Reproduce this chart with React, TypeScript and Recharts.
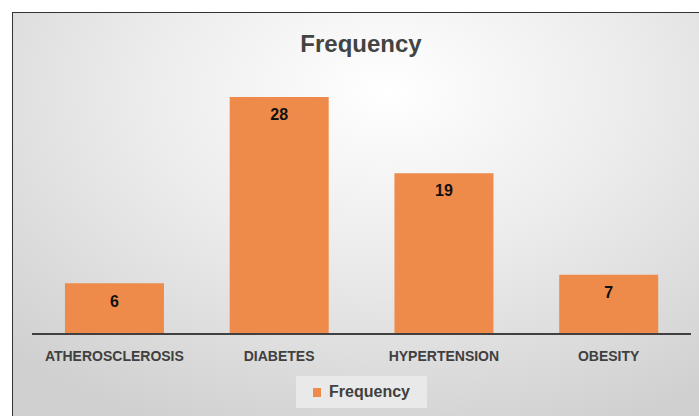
import { BarChart, Bar, XAxis, YAxis, LabelList, Legend } from 'recharts';

// categorias y valores
const categories = ['ATHEROSCLEROSIS', 'DIABETES', 'HYPERTENSION', 'OBESITY'];
const frequency = [6, 28, 19, 7];

const BAR_COLOR = '#EE8A4A';
const FONT = "'Liberation Sans', Arial, sans-serif";

const data = categories.map((name, i) => ({ name, Frequency: frequency[i] }));

const renderLegend = () => (
  <div
    style={{
      width: 131,
      height: 32,
      background: '#e9e9e9',
      display: 'flex',
      alignItems: 'center',
      justifyContent: 'center',
      fontFamily: FONT,
      fontWeight: 'bold',
      fontSize: 16,
      color: '#404040',
    }}
  >
    <span style={{ width: 8, height: 9, background: BAR_COLOR, marginRight: 8, display: 'inline-block' }} />
    Frequency
  </div>
);

export default function App() {
  return (
    <div style={{ position: 'absolute', left: 0, top: 0, width: 699, height: 416, overflow: 'hidden', background: '#fff' }}>
      <div
        style={{
          position: 'absolute',
          left: 12,
          top: 12,
          width: 720,
          height: 430,
          border: '1.5px solid #333',
          background: 'radial-gradient(ellipse 75% 85% at 52% 18%, #ffffff 0%, #ececec 45%, #d0d0d0 100%)',
        }}
      />
      <div
        style={{
          position: 'absolute',
          left: 261,
          top: 32,
          width: 200,
          textAlign: 'center',
          fontFamily: FONT,
          fontWeight: 'bold',
          fontSize: 24,
          lineHeight: '24px',
          color: '#434343',
        }}
      >
        Frequency
      </div>
      <div style={{ position: 'absolute', left: 0, top: 0 }}>
        <BarChart
          width={699}
          height={416}
          data={data}
          margin={{ top: 80, right: 8, left: 32, bottom: 52 }}
          barCategoryGap="20%"
        >
          <XAxis
            dataKey="name"
            axisLine={{ stroke: '#404040', strokeWidth: 2 }}
            tickLine={false}
            tickMargin={11}
            interval={0}
            tick={{ fill: '#404040', fontSize: 14, fontWeight: 'bold', fontFamily: FONT }}
          />
          <YAxis hide domain={[0, 30]} />
          <Legend
            layout="vertical"
            align="center"
            verticalAlign="middle"
            content={renderLegend}
            wrapperStyle={{ left: 296, top: 376, width: 131, height: 32 }}
          />
          <Bar dataKey="Frequency" fill={BAR_COLOR} isAnimationActive={false}>
            <LabelList
              dataKey="Frequency"
              position="insideTop"
              offset={12}
              style={{ fill: '#111', fontSize: 16, fontWeight: 'bold', fontFamily: FONT }}
            />
          </Bar>
        </BarChart>
      </div>
    </div>
  );
}
